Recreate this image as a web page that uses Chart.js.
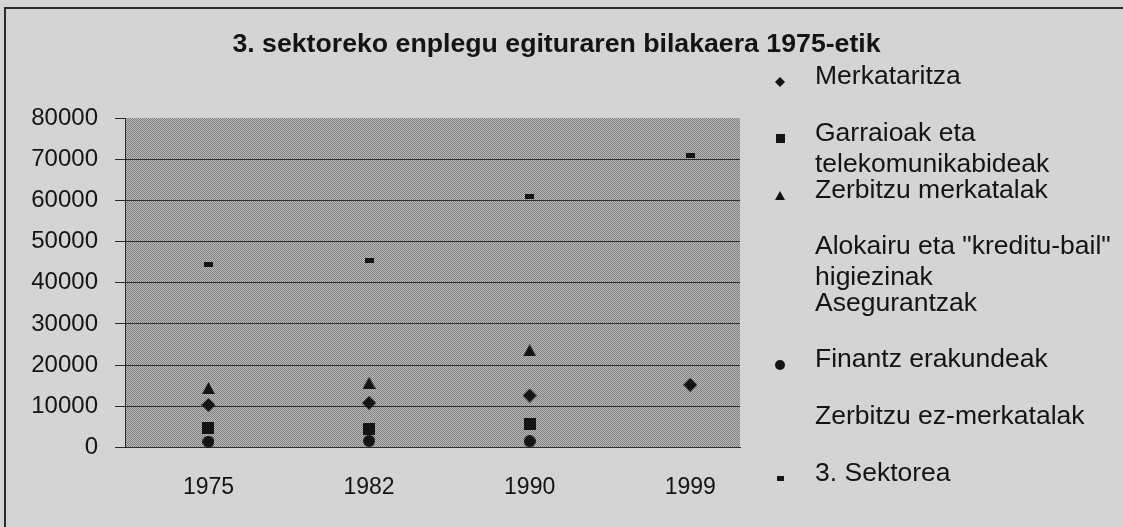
<!DOCTYPE html>
<html>
<head>
<meta charset="utf-8">
<script src="https://cdn.jsdelivr.net/npm/chart.js@4.4.0/dist/chart.umd.min.js"></script>
<style>
html, body { margin: 0; padding: 0; background: #d4d4d4; }
#wrap { width: 1123px; height: 527px; }
</style>
</head>
<body>
<div id="wrap"><canvas id="sectorChart" width="1123" height="527"></canvas></div>
<script>
// data
var years = ["1975", "1982", "1990", "1999"];
var yTicks = [0, 10000, 20000, 30000, 40000, 50000, 60000, 70000, 80000];
var seriesNames = [
  "Merkataritza",
  "Garraioak eta\ntelekomunikabideak",
  "Zerbitzu merkatalak",
  "Alokairu eta \"kreditu-bail\"\nhigiezinak",
  "Asegurantzak",
  "Finantz erakundeak",
  "Zerbitzu ez-merkatalak",
  "3. Sektorea"
];
var merkataritza = [10300, 10800, 12600, 15200];
var garraioak = [4800, 4500, 5700, null];
var zerbitzuMerkatalak = [14400, 15700, 23600, null];
var alokairu = [null, null, null, null];
var asegurantzak = [null, null, null, null];
var finantz = [1400, 1600, 1500, null];
var zerbitzuEzMerkatalak = [null, null, null, null];
var sektorea3 = [44400, 45400, 61000, 71000];

var allSeries = [merkataritza, garraioak, zerbitzuMerkatalak, alokairu, asegurantzak, finantz, zerbitzuEzMerkatalak, sektorea3];
var shapes = ["diamond", "square", "triangle", null, null, "circle", null, "dash"];

// small marker sprites, drawn centred on the point
function makeMarker(shape, w, h) {
  var c = document.createElement("canvas");
  c.width = w;
  c.height = h;
  var g = c.getContext("2d");
  g.fillStyle = "#141414";
  g.beginPath();
  if (shape === "diamond") {
    g.moveTo(w / 2, 0); g.lineTo(w, h / 2); g.lineTo(w / 2, h); g.lineTo(0, h / 2);
  } else if (shape === "triangle") {
    g.moveTo(w / 2, 0); g.lineTo(w, h); g.lineTo(0, h);
  } else if (shape === "circle") {
    g.arc(w / 2, h / 2, w / 2, 0, Math.PI * 2);
  } else {
    g.rect(0, 0, w, h);
  }
  g.closePath();
  g.fill();
  return c;
}

var pointSizes = { diamond: [14, 14], square: [12, 12], triangle: [13, 12], circle: [12, 12], dash: [9, 5] };
var legendSizes = { diamond: [10, 10], square: [9, 9], triangle: [10, 9], circle: [10, 10], dash: [7, 5] };

function buildDatasets() {
  return allSeries.map(function (values, i) {
    var shape = shapes[i];
    var pts = [];
    values.forEach(function (v, k) {
      if (v !== null) pts.push({ x: k, y: v });
    });
    return {
      label: seriesNames[i],
      data: pts,
      pointStyle: shape ? makeMarker(shape, pointSizes[shape][0], pointSizes[shape][1]) : "circle",
      legendMarker: shape ? makeMarker(shape, legendSizes[shape][0], legendSizes[shape][1]) : null,
      pointRadius: 6,
      backgroundColor: "#141414",
      borderColor: "#141414",
      showLine: false
    };
  });
}

// checker pattern for the plot area
function plotPattern(ctx) {
  var p = document.createElement("canvas");
  p.width = 2; p.height = 2;
  var g = p.getContext("2d");
  g.fillStyle = "#bcbcbc"; g.fillRect(0, 0, 2, 2);
  g.fillStyle = "#7e7e7e"; g.fillRect(0, 0, 1, 1); g.fillRect(1, 1, 1, 1);
  return ctx.createPattern(p, "repeat");
}

var backdrop = {
  id: "backdrop",
  beforeDraw: function (chart) {
    var ctx = chart.ctx, a = chart.chartArea;
    ctx.save();
    ctx.fillStyle = "#d4d4d4";
    ctx.fillRect(0, 0, chart.width, chart.height);
    ctx.strokeStyle = "#2b2b2b";
    ctx.lineWidth = 2;
    ctx.strokeRect(5, 8, chart.width + 10, chart.height + 10);
    ctx.fillStyle = plotPattern(ctx);
    ctx.fillRect(a.left, a.top, a.right - a.left, a.bottom - a.top);
    ctx.restore();
  }
};

// legend on the right, evenly spaced rows; two-line names run into the next row
var sideLegend = {
  id: "sideLegend",
  afterDraw: function (chart) {
    var ctx = chart.ctx, a = chart.chartArea;
    ctx.save();
    ctx.font = "26.5px 'Liberation Sans', Arial, sans-serif";
    ctx.fillStyle = "#141414";
    ctx.textBaseline = "middle";
    ctx.textAlign = "left";
    chart.data.datasets.forEach(function (ds, i) {
      var y = 77 + i * 56.6;
      var m = ds.legendMarker;
      if (m) ctx.drawImage(m, Math.round(a.right + 40 - m.width / 2), Math.round(y + 5 - m.height / 2));
      ds.label.split("\n").forEach(function (line, k) {
        ctx.fillText(line, a.right + 75, y + k * 31);
      });
    });
    ctx.restore();
  }
};

Chart.defaults.font.family = "'Liberation Sans', Arial, sans-serif";
Chart.defaults.color = "#141414";

var ctxS = document.getElementById("sectorChart").getContext("2d");
var sectorChart = new Chart(ctxS, {
  type: "scatter",
  data: { datasets: buildDatasets() },
  plugins: [backdrop, sideLegend],
  options: {
    responsive: false,
    animation: false,
    layout: { padding: { right: 10 } },
    plugins: {
      tooltip: { enabled: false },
      legend: { display: false },
      title: {
        display: true,
        text: "3. sektoreko enplegu egituraren bilakaera 1975-etik",
        color: "#141414",
        font: { size: 26.7, weight: "bold" },
        padding: { top: 29, bottom: 57 }
      }
    },
    scales: {
      x: {
        type: "linear",
        min: -0.52,
        max: 3.31,
        afterBuildTicks: function (s) {
          s.ticks = years.map(function (y, k) { return { value: k }; });
        },
        ticks: {
          padding: 26,
          font: { size: 23 },
          color: "#141414",
          callback: function (v) { return years[v]; }
        },
        grid: { display: false, drawTicks: false },
        border: { display: true, color: "#2b2b2b" }
      },
      y: {
        min: 0,
        max: 80000,
        afterBuildTicks: function (s) {
          s.ticks = yTicks.map(function (v) { return { value: v }; });
        },
        afterFit: function (s) { s.width = 125; },
        ticks: {
          padding: 17,
          font: { size: 24 },
          color: "#141414",
          callback: function (v) { return String(v); }
        },
        grid: {
          color: function (c) { return c.tick && c.tick.value === 80000 ? "rgba(0,0,0,0)" : "#2b2b2b"; },
          tickColor: "#2b2b2b",
          tickLength: 10,
          lineWidth: 1
        },
        border: { display: true, color: "#2b2b2b" }
      },
      gap: {
        type: "linear",
        position: "right",
        display: true,
        afterFit: function (s) { s.width = 373; },
        ticks: { display: false },
        grid: { drawOnChartArea: false, drawTicks: false, color: "rgba(0,0,0,0)" },
        border: { display: false }
      }
    }
  }
});
</script>
</body>
</html>
